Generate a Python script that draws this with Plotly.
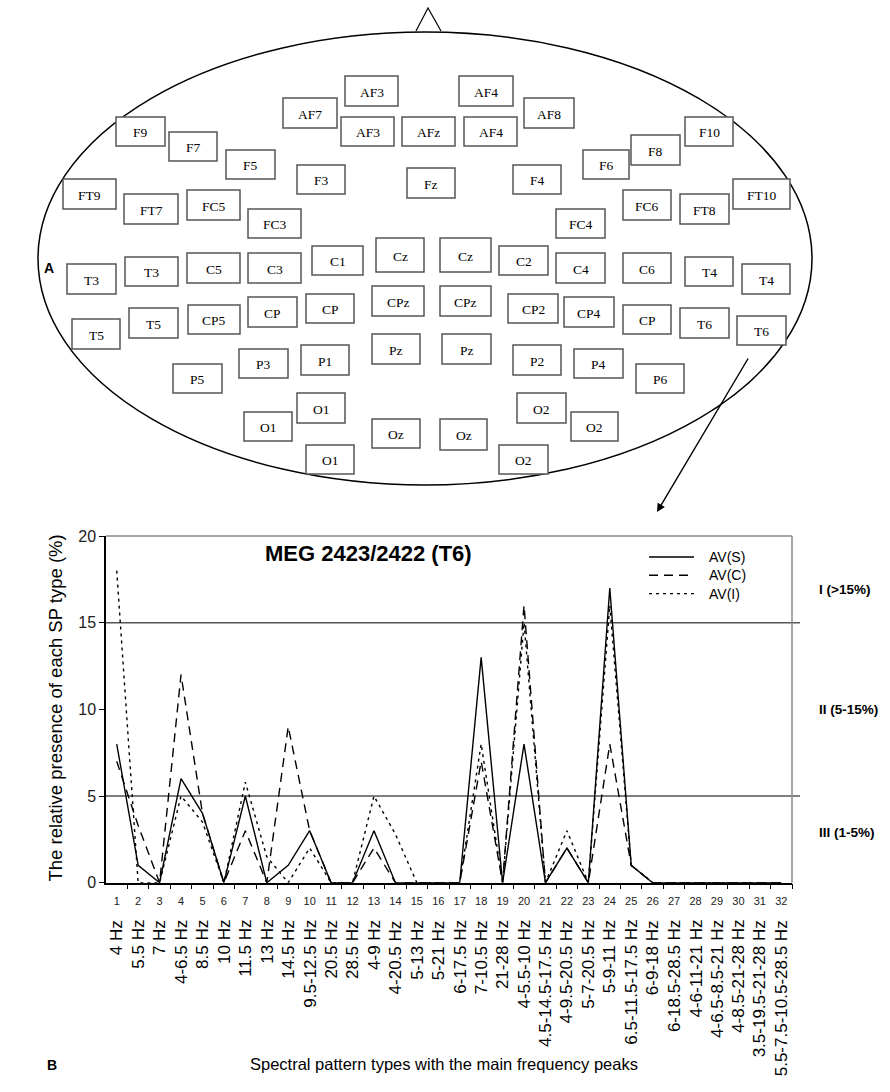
import plotly.graph_objects as go

# ---------------- data ----------------
categories = list(range(1, 33))
freq_labels = [
    "4 Hz", "5.5 Hz", "7 Hz", "4-6.5 Hz", "8.5 Hz", "10 Hz", "11.5 Hz", "13 Hz",
    "14.5 Hz", "9.5-12.5 Hz", "20.5 Hz", "28.5 Hz", "4-9 Hz", "4-20.5 Hz", "5-13 Hz",
    "5-21 Hz", "6-17.5 Hz", "7-10.5 Hz", "21-28 Hz", "4-5.5-10 Hz", "4.5-14.5-17.5 Hz",
    "4-9.5-20.5 Hz", "5-7-20.5 Hz", "5-9-11 Hz", "6.5-11.5-17.5 Hz", "6-9-18 Hz",
    "6-18.5-28.5 Hz", "4-6-11-21 Hz", "4-6.5-8.5-21 Hz", "4-8.5-21-28 Hz",
    "3.5-19.5-21-28 Hz", "5.5-7.5-10.5-28.5 Hz",
]
av_s = [8, 1, 0, 6, 4, 0, 5, 0, 1, 3, 0, 0, 3, 0, 0, 0, 0, 13, 0, 8, 0, 2, 0, 17, 1, 0, 0, 0, 0, 0, 0, 0]
av_c = [7, 3.3, 0, 12, 4, 0, 3, 0, 9, 3, 0, 0, 2, 0, 0, 0, 0, 7, 0, 16, 0, 2, 0, 8, 1, 0, 0, 0, 0, 0, 0, 0]
av_i = [18, 0, 0, 5, 3.5, 0, 5.8, 1.5, 0, 2, 0, 0, 5, 2.8, 0, 0, 0, 8, 0, 15, 0, 3, 0, 16, 1, 0, 0, 0, 0, 0, 0, 0]
series_names = ["AV(S)", "AV(C)", "AV(I)"]
y_ticks = [0, 5, 10, 15, 20]
class_limits = [15, 5]
class_labels = ["I (>15%)", "II (5-15%)", "III (1-5%)"]
class_label_vals = [16.9, 10.0, 2.9]

# sensor layout of the head diagram (label, x0, y0, x1, y1) in pixel space
sensors = [
    ("AF3", 345, 76, 398, 106), ("AF4", 459, 76, 513, 106),
    ("AF7", 283, 98, 337, 128), ("AF8", 524, 98, 574, 128),
    ("AF3", 341, 117, 394, 146), ("AFz", 402, 117, 455, 146), ("AF4", 464, 117, 517, 146),
    ("F9", 116, 117, 165, 146), ("F7", 169, 132, 217, 161), ("F5", 226, 150, 275, 179),
    ("F3", 297, 165, 345, 194), ("Fz", 407, 168, 455, 198), ("F4", 513, 165, 561, 194),
    ("F6", 583, 150, 629, 179), ("F8", 631, 135, 680, 165), ("F10", 685, 117, 733, 146),
    ("FT9", 63, 179, 116, 209), ("FT7", 124, 194, 178, 224), ("FC5", 187, 190, 240, 220),
    ("FC3", 248, 209, 301, 238), ("FC4", 556, 209, 605, 238), ("FC6", 623, 190, 671, 220),
    ("FT8", 680, 194, 729, 224), ("FT10", 733, 179, 790, 209),
    ("T3", 67, 264, 116, 294), ("T3", 125, 257, 178, 286), ("C5", 187, 253, 240, 283),
    ("C3", 248, 253, 301, 283), ("C1", 312, 246, 363, 275), ("Cz", 376, 238, 424, 272),
    ("Cz", 440, 238, 491, 272), ("C2", 499, 246, 548, 275), ("C4", 556, 253, 605, 283),
    ("C6", 623, 253, 671, 283), ("T4", 685, 257, 733, 286), ("T4", 742, 264, 790, 294),
    ("T5", 72, 319, 120, 349), ("T5", 129, 308, 178, 338), ("CP5", 188, 305, 240, 334),
    ("CP", 248, 297, 297, 327), ("CP", 306, 294, 354, 323), ("CPz", 372, 286, 424, 316),
    ("CPz", 440, 286, 491, 316), ("CP2", 508, 294, 558, 323), ("CP4", 564, 297, 614, 327),
    ("CP", 623, 305, 671, 334), ("T6", 680, 308, 729, 338), ("T6", 737, 316, 786, 345),
    ("P5", 173, 364, 222, 393), ("P3", 239, 349, 288, 378), ("P1", 301, 345, 349, 375),
    ("Pz", 372, 334, 420, 364), ("Pz", 442, 334, 491, 364), ("P2", 513, 345, 561, 375),
    ("P4", 574, 349, 623, 378), ("P6", 636, 364, 684, 393),
    ("O1", 297, 393, 345, 423), ("O1", 244, 412, 292, 441), ("O1", 306, 445, 354, 474),
    ("Oz", 372, 419, 420, 448), ("Oz", 440, 419, 487, 450),
    ("O2", 517, 393, 566, 423), ("O2", 571, 412, 618, 441), ("O2", 499, 445, 548, 474),
]

W, H = 890, 1092
def px(x):
    return x / W
def py(y):
    return 1 - y / H

SANS = "Liberation Sans, Arial, sans-serif"
SERIF = "Liberation Serif, Times New Roman, serif"
dash_styles = ["solid", "9px,6px", "3px,4px"]

fig = go.Figure()
for name, vals, dash in zip(series_names, [av_s, av_c, av_i], dash_styles):
    fig.add_trace(go.Scatter(x=categories, y=vals, mode="lines", name=name, showlegend=False,
                             line=dict(color="black", width=1.4, dash=dash)))
# invisible trace to hold the diagram axes
fig.add_trace(go.Scatter(x=[0], y=[0], xaxis="x3", yaxis="y3", mode="markers",
                         marker=dict(opacity=0), showlegend=False, hoverinfo="skip"))

x_left, x_right = 106, 792
y_top, y_bot = 536, 882.7

shapes = []
annotations = []
# class limits
for v in class_limits:
    shapes.append(dict(type="line", xref="paper", yref="y", x0=px(x_left), x1=px(800),
                       y0=v, y1=v, line=dict(color="#555555", width=1.6), layer="below"))
# top and right frame
shapes.append(dict(type="line", xref="paper", yref="paper", x0=px(x_left), x1=px(x_right),
                   y0=py(y_top), y1=py(y_top), line=dict(color="#888888", width=1.5)))
shapes.append(dict(type="line", xref="paper", yref="paper", x0=px(x_right), x1=px(x_right),
                   y0=py(y_top), y1=py(y_bot), line=dict(color="#888888", width=1.5)))

# legend (drawn)
for i, (name, dash) in enumerate(zip(series_names, dash_styles)):
    yy = 557 + i * 18.3
    shapes.append(dict(type="line", xref="paper", yref="paper", x0=px(649), x1=px(694),
                       y0=py(yy), y1=py(yy), line=dict(color="black", width=1.4, dash=dash)))
    annotations.append(dict(xref="paper", yref="paper", x=px(707), y=py(yy), xanchor="left",
                            text=name, showarrow=False,
                            font=dict(family=SANS, size=14, color="black")))

# head diagram
shapes.append(dict(type="circle", xref="x3", yref="y3", x0=38, x1=812, y0=32, y1=485,
                   line=dict(color="black", width=1.5)))
shapes.append(dict(type="path", xref="x3", yref="y3", path="M 416 31 L 428 8 L 441 31",
                   line=dict(color="black", width=1.2)))
for lab, x0, y0, x1, y1 in sensors:
    shapes.append(dict(type="rect", xref="x3", yref="y3", x0=x0, x1=x1, y0=y0, y1=y1,
                       line=dict(color="#555555", width=1.5), fillcolor="white"))
    annotations.append(dict(xref="x3", yref="y3", x=(x0 + x1) / 2, y=(y0 + y1) / 2 + 1,
                            text=lab, showarrow=False,
                            font=dict(family=SERIF, size=13.5, color="black")))

# arrow
annotations.append(dict(xref="x3", yref="y3", x=657, y=512, axref="x3", ayref="y3",
                        ax=749, ay=357, text="", showarrow=True, arrowhead=2,
                        arrowsize=1.2, arrowwidth=1.4, arrowcolor="black"))

# frequency labels under the numbers
for c, lab in zip(categories, freq_labels):
    annotations.append(dict(xref="x", yref="paper", x=c, y=py(918), text=lab, textangle=-90,
                            xanchor="center", yanchor="top", showarrow=False,
                            font=dict(family=SANS, size=17, color="black")))

# texts
annotations += [
    dict(xref="paper", yref="paper", x=px(42), y=py(258), text="<b>A</b>", showarrow=False,
         font=dict(family=SANS, size=14, color="black")),
    dict(xref="paper", yref="paper", x=px(45), y=py(1075), text="<b>B</b>", showarrow=False,
         font=dict(family=SANS, size=14, color="black")),
    dict(xref="paper", yref="paper", x=px(368), y=py(553), text="<b>MEG 2423/2422 (T6)</b>",
         showarrow=False, font=dict(family=SANS, size=22, color="black")),
    dict(xref="paper", yref="paper", x=px(42), y=py(708),
         text="The relative presence of each SP type (%)", textangle=-90, showarrow=False,
         font=dict(family=SANS, size=18.5, color="black")),
    dict(xref="paper", yref="paper", x=px(444), y=py(1075),
         text="Spectral pattern types with the main frequency peaks", showarrow=False,
         font=dict(family=SANS, size=16.5, color="black")),
]
for lab, v in zip(class_labels, class_label_vals):
    annotations.append(dict(xref="paper", yref="y", x=px(817), y=v, xanchor="left",
                            text="<b>" + lab + "</b>", showarrow=False,
                            font=dict(family=SANS, size=13.5, color="black")))

fig.update_layout(
    width=W, height=H, margin=dict(l=0, r=0, t=0, b=0),
    paper_bgcolor="white", plot_bgcolor="rgba(0,0,0,0)",
    font=dict(family=SANS, color="black"),
    showlegend=False,
    xaxis=dict(domain=[px(x_left), px(x_right)], range=[0.5, 32.5],
               tickmode="array", tickvals=categories, ticktext=[str(c) for c in categories],
               ticks="", ticklabelstandoff=7, showline=True, linecolor="black", linewidth=1.5,
               tickfont=dict(family=SANS, size=11, color="#222222"),
               minor=dict(tickmode="array", tickvals=[c + 0.5 for c in categories],
                          ticks="outside", ticklen=5, tickcolor="black", tickwidth=1),
               showgrid=False, zeroline=False, fixedrange=True, automargin=False),
    yaxis=dict(domain=[py(y_bot), py(y_top)], range=[0, 20], tickvals=y_ticks,
               ticks="outside", ticklen=5, tickcolor="black", showline=True,
               linecolor="black", linewidth=1.5, showgrid=False, zeroline=False,
               automargin=False,
               tickfont=dict(family=SANS, size=16, color="#222222")),
    xaxis3=dict(domain=[0, 1], range=[0, W], visible=False, anchor="y3", automargin=False),
    yaxis3=dict(domain=[0, 1], range=[H, 0], visible=False, anchor="x3", automargin=False),
    shapes=shapes, annotations=annotations,
)

post = (
    "document.documentElement.style.margin='0';document.documentElement.style.padding='0';"
    "document.body.style.margin='0';document.body.style.padding='0';"
    "document.documentElement.style.overflow='hidden';document.body.style.overflow='hidden';"
)
fig.write_html("out.html", config={"displayModeBar": False}, post_script=post)
